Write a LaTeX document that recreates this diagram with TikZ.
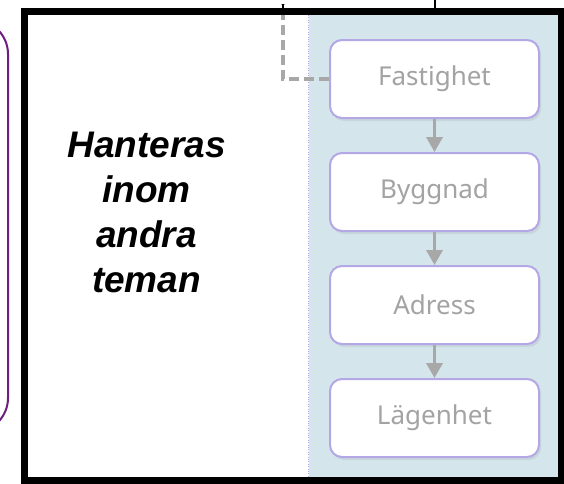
\documentclass[tikz,border=0pt]{standalone}
\usepackage{fontspec}
\setmainfont{Noto Sans}
\newfontfamily\labelfont{Liberation Sans}
\usetikzlibrary{arrows.meta,positioning,shadows}
\definecolor{boxline}{HTML}{B4A7E6}
\definecolor{boxtext}{HTML}{A3A3A3}
\definecolor{lane}{HTML}{D4E6EC}
\definecolor{linkgray}{HTML}{A8A8A8}
\definecolor{panel}{HTML}{6E1E7E}
\tikzset{
    every picture/.style={
        x=1pt,y=-1pt,node distance=33pt,
        entity/.style={draw=boxline,line width=2pt,rounded corners=12pt,fill=white,
            minimum width=209pt,minimum height=78pt,text=boxtext,
            font=\fontsize{26}{30}\selectfont,
            drop shadow={shadow xshift=2pt,shadow yshift=-3pt,opacity=.15}},
        flow/.style={draw=linkgray,line width=3.5pt,
            -{Triangle[width=16pt,length=15pt]}}
    }
}

\begin{document}
\begin{tikzpicture}
    \useasboundingbox (0,0) rectangle (564,483);
    % left panel, only its edge is visible
    \draw[panel,line width=2pt,rounded corners=34pt] (-60,20) rectangle (8,432);
    \fill[lane] (309,15) rectangle (558,477);
    \draw[boxline,dotted,thin] (308.5,15) -- (308.5,477);
    \node[entity]          (0) at (434.5,79) {Fastighet};
    \node[entity]          (1) [below=of 0] {Byggnad};
    \node[entity]          (2) [below=of 1] {Adress};
    \node[entity]          (3) [below=of 2] {Lägenhet};
    \node[font=\labelfont\bfseries\itshape\fontsize{37}{45}\selectfont,
          align=center,inner sep=0pt] (t) at (146.5,212) {Hanteras\\inom\\andra\\teman};
    \coordinate (in)  at (283,4);
    \coordinate (out) at (435,0);
    \draw[flow] (0) -- (1);
    \draw[flow] (1) -- (2);
    \draw[flow] (2) -- (3);
    \draw[draw=linkgray,line width=4pt,dash pattern=on 10pt off 5pt] (0.west) -| (in);
    % frame
    \draw[line width=7pt] (24,11) rectangle (561.5,480.5);
    \draw[line width=2.5pt] (in) -- ++(0,8);
    \draw[line width=2.5pt] (out) -- ++(0,8);
\end{tikzpicture}
\end{document}
